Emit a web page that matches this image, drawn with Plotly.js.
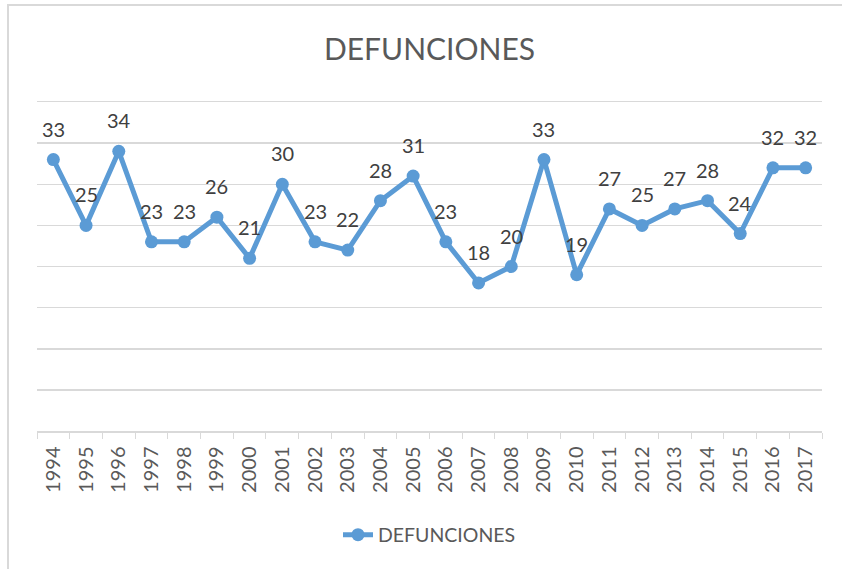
<!DOCTYPE html>
<html>
<head>
<meta charset="utf-8">
<script src="https://cdn.plot.ly/plotly-3.0.1.min.js"></script>
<style>
html,body{margin:0;padding:0;background:#fff;}
#frame{position:absolute;left:7px;top:4px;width:835px;height:565px;border-top:2px solid #d9d9d9;border-left:2px solid #d9d9d9;box-sizing:border-box;}
#chart{position:absolute;left:0;top:0;width:842px;height:569px;}
</style>
</head>
<body>
<div id="frame"></div>
<div id="chart"></div>
<script>
const years = ["1994","1995","1996","1997","1998","1999","2000","2001","2002","2003","2004","2005","2006","2007","2008","2009","2010","2011","2012","2013","2014","2015","2016","2017"];
const defunciones = [33,25,34,23,23,26,21,30,23,22,28,31,23,18,20,33,19,27,25,27,28,24,32,32];
const seriesName = "DEFUNCIONES";
const chartTitle = "DEFUNCIONES";

const textColor = "#595959";
const labelColor = "#404040";
const lineColor = "#5b9bd5";
const gridColor = "#d9d9d9";
const fontFam = "Lato, 'Open Sans', sans-serif";

const trace = {
  x: years,
  y: defunciones,
  type: "scatter",
  mode: "lines+markers",
  name: seriesName,
  line: {color: lineColor, width: 5},
  marker: {color: lineColor, size: 13},
  hoverinfo: "x+y"
};

const annotations = defunciones.map((v, i) => ({
  x: i, y: v, xref: "x", yref: "y",
  text: String(v), showarrow: false,
  yshift: 31, yanchor: "middle", xanchor: "center",
  font: {family: fontFam, size: 20, color: labelColor}
}));

const layout = {
  width: 842, height: 569,
  margin: {l: 37, r: 20, t: 102, b: 138},
  paper_bgcolor: "rgba(0,0,0,0)",
  plot_bgcolor: "rgba(0,0,0,0)",
  font: {family: fontFam, color: textColor},
  title: {
    text: chartTitle,
    x: 0.5, xref: "paper", xanchor: "center",
    y: 1 - 49/569, yref: "container", yanchor: "middle",
    font: {family: fontFam, size: 30, color: textColor}
  },
  xaxis: {
    type: "category",
    range: [-0.5, years.length - 0.5],
    tickson: "boundaries",
    ticks: "outside", ticklen: 6, tickcolor: gridColor, tickwidth: 1,
    showline: true, mirror: true, linecolor: gridColor, linewidth: 1.5,
    showgrid: false, zeroline: false,
    tickangle: -90,
    ticklabelstandoff: 6,
    tickfont: {family: fontFam, size: 20, color: textColor}
  },
  yaxis: {
    range: [0, 40],
    tick0: 0,
    dtick: 5,
    showticklabels: false,
    showgrid: true, gridcolor: gridColor, gridwidth: 1.5,
    zeroline: false, showline: false, ticks: ""
  },
  showlegend: true,
  legend: {
    orientation: "h",
    x: 0.5, xanchor: "center",
    y: (431 - 535) / 329, yanchor: "middle",
    font: {family: fontFam, size: 19.5, color: textColor},
    bgcolor: "rgba(0,0,0,0)"
  },
  annotations: annotations
};

Plotly.newPlot("chart", [trace], layout, {displayModeBar: false, staticPlot: true});
</script>
</body>
</html>
